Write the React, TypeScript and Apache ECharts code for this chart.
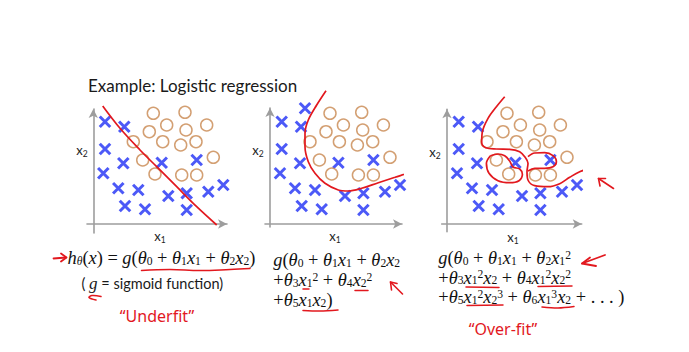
import React, { useEffect, useRef } from "react";
import * as echarts from "echarts";

// ---- data (x1, x2) in plot units ----
const crosses: number[][] = [
  [35, 115.7], [11.7, 102.3], [31, 97.3], [11.7, 75], [30, 60.7], [10, 50.7],
  [25, 35.7], [45, 34], [31.7, 18], [51.7, 14.7], [68.4, 61.3], [75, 28],
  [93.4, 30.7], [93.4, 14], [103.4, 64], [115, 32.3], [130, 39],
];
const circles: number[][] = [
  [60, 110.7], [91.7, 111.7], [73.4, 99], [56, 92.3], [92.7, 94], [113.4, 99],
  [40, 82.3], [69.4, 82.3], [87.4, 79], [102.7, 82.3], [49.4, 64], [120, 66.7],
  [61.7, 50], [88.4, 49], [103.4, 49],
];
const linearBoundary: number[][] = [
  [9.4, 118], [26.7, 95.7], [46.7, 74], [63.4, 57.3], [83.4, 37.3], [103.4, 17.3], [123.4, -1],
];
const quadraticBoundary: number[][] = [
  [56, 133.3], [46.7, 119], [38.3, 104], [35, 90.7], [35, 77.3], [38.3, 62.3], [45, 50.7],
  [55, 40.7], [68.3, 34], [78.3, 33], [91.7, 35.7], [108.3, 41.3], [125, 46.7], [141.7, 52.3], [151.7, 58],
];
const overfitMain: number[][] = [
  [57.7, 127.3], [49.4, 117.3], [41, 105.7], [35.4, 92.3], [34.7, 81.7], [38.7, 76.3], [49.4, 75],
  [62.7, 74.7], [72.7, 72.3], [77.7, 67.3], [81, 60.7], [80, 52.3], [81, 44], [87.7, 38.3],
  [101, 37.3], [112.7, 40.3], [122.7, 46.7], [132.7, 52.3], [144.4, 56.3], [153.4, 61.7],
];
const overfitLoopLeft: number[][] = [
  [43.4, 68.3], [39.4, 60.7], [42, 50.7], [51, 43.3], [62.7, 41.3], [72, 43.3], [75.4, 49.7],
  [72.7, 55], [66, 57], [62.7, 63], [57.7, 68.3], [51, 70], [43.4, 68.3],
];
const overfitLoopRight: number[][] = [
  [81, 67.3], [87.7, 71], [97.7, 71.3], [106, 68.3], [109.4, 62.3], [106, 57.3], [97.7, 55.7],
  [87.7, 55.7], [81, 53],
];

const titleText = "Example: Logistic regression";
const formula1 = ["h_θ(x) = g(θ_0 + θ_1x_1 + θ_2x_2)"];
const formula2 = ["g(θ_0 + θ_1x_1 + θ_2x_2", "+θ_3x_1^2 + θ_4x_2^2", "+θ_5x_1x_2)"];
const formula3 = [
  "g(θ_0 + θ_1x_1 + θ_2x_1^2",
  "+θ_3x_1^2x_2 + θ_4x_1^2x_2^2",
  "+θ_5x_1^2x_2^3 + θ_6x_1^3x_2 + . . . )",
];
const sigmoidNote = ["( ", "g", " = sigmoid function)"];
const underfitNote = "\u201CUnderfit\u201D";
const overfitNote = "\u201COver-fit\u201D";

const BLUE = "#1f30f5";
const TAN = "#c8874f";
const RED = "#e2181e";
const AXIS = "#9d9d9d";
const INK = "#111111";
const SERIF = "'Liberation Serif', 'DejaVu Serif', serif";
const SANS = "Lato, 'Open Sans', 'Noto Sans', sans-serif";

function toRich(src: string): string {
  const toks: { s: string; t: string }[] = [];
  const isLetter = (c: string) => /[a-zA-Zθ]/.test(c);
  let i = 0;
  while (i < src.length) {
    const c = src[i];
    if ((c === "_" || c === "^") && i + 1 < src.length) {
      const s = src[i + 1];
      const style = (c === "_" ? "s" : "p") + (isLetter(s) ? "i" : "r");
      toks.push({ s: style, t: s });
      i += 2;
    } else {
      toks.push({ s: isLetter(c) ? "i" : "r", t: c });
      i += 1;
    }
  }
  const merged: { s: string; t: string }[] = [];
  for (const tk of toks) {
    const last = merged[merged.length - 1];
    if (last && last.s === tk.s) last.t += tk.t;
    else merged.push({ ...tk });
  }
  return merged.map((m) => `{${m.s}|${m.t}}`).join("");
}

const FS = 18.4;
const SS = 11.6;
const LH = 18;
const SLH = 6;
const mathRich: any = {
  i: { fontFamily: SERIF, fontStyle: "italic", fontSize: FS, lineHeight: LH, fill: INK },
  r: { fontFamily: SERIF, fontSize: FS, lineHeight: LH, fill: INK },
  si: { fontFamily: SERIF, fontStyle: "italic", fontSize: SS, lineHeight: SLH, verticalAlign: "bottom", fill: INK },
  sr: { fontFamily: SERIF, fontSize: SS, lineHeight: SLH, verticalAlign: "bottom", fill: INK },
  pi: { fontFamily: SERIF, fontStyle: "italic", fontSize: SS, lineHeight: SLH, verticalAlign: "top", fill: INK },
  pr: { fontFamily: SERIF, fontSize: SS, lineHeight: SLH, verticalAlign: "top", fill: INK },
};

function mathText(src: string, x: number, y: number) {
  return {
    type: "text",
    x,
    y,
    style: { text: toRich(src), rich: mathRich, align: "left", verticalAlign: "middle" },
  };
}

function axisLabel(main: string, sub: string, x: number, y: number) {
  return {
    type: "text",
    x,
    y,
    style: {
      text: `{a|${main}}{b|${sub}}`,
      align: "center",
      verticalAlign: "middle",
      rich: {
        a: { fontFamily: SANS, fontSize: 13, lineHeight: 16, fill: "#222" },
        b: { fontFamily: SANS, fontSize: 8.5, lineHeight: 9, verticalAlign: "bottom", fill: "#222" },
      },
    },
  };
}

function redLine(points: number[][], smooth = 0.3, width = 1.6) {
  return {
    type: "polyline",
    shape: { points, smooth },
    style: { stroke: RED, lineWidth: width, fill: null, lineCap: "round", lineJoin: "round" },
    z: 10,
  };
}

const panels = [
  { grid: { left: 87, top: 109, width: 140, height: 124 }, x: [-6.3, 133.7], y: [-9, 115] },
  { grid: { left: 265, top: 108, width: 137, height: 119 }, x: [-5, 132], y: [-3, 116] },
  { grid: { left: 441.7, top: 109.3, width: 140, height: 122.4 }, x: [-5.3, 134.7], y: [-7.7, 114.7] },
];

export default function App() {
  const ref = useRef<HTMLDivElement>(null);
  useEffect(() => {
    if (!ref.current) return;
    const chart = echarts.init(ref.current, undefined, { renderer: "svg" });

    const axisCommon = (min: number, max: number, gridIndex: number) => ({
      type: "value",
      gridIndex,
      min,
      max,
      axisLine: {
        show: true,
        onZero: true,
        symbol: ["none", "arrow"],
        symbolSize: [7, 9],
        lineStyle: { color: AXIS, width: 1.6 },
      },
      axisTick: { show: false },
      axisLabel: { show: false },
      splitLine: { show: false },
    });

    const boundaries = [[linearBoundary], [quadraticBoundary], [overfitMain, overfitLoopLeft, overfitLoopRight]];
    const series: any[] = [];
    panels.forEach((_, k) => {
      series.push({
        type: "scatter",
        xAxisIndex: k,
        yAxisIndex: k,
        data: crosses,
        symbol: "path://M0 0L10 10M10 0L0 10",
        symbolSize: 10.5,
        itemStyle: { color: "rgba(0,0,0,0)", borderColor: BLUE, borderWidth: 3 },
        z: 3,
      });
      series.push({
        type: "scatter",
        xAxisIndex: k,
        yAxisIndex: k,
        data: circles,
        symbol: "circle",
        symbolSize: 12,
        itemStyle: { color: "rgba(0,0,0,0)", borderColor: TAN, borderWidth: 1.5 },
        z: 3,
      });
      boundaries[k].forEach((b) => {
        series.push({
          type: "line",
          xAxisIndex: k,
          yAxisIndex: k,
          data: b,
          smooth: 0.35,
          showSymbol: false,
          symbol: "none",
          clip: false,
          lineStyle: { color: RED, width: 1.7 },
          z: 5,
        });
      });
    });

    const graphics: any[] = [
      {
        type: "text",
        x: 88,
        y: 85,
        style: { text: titleText, fontFamily: SANS, fontSize: 17, fill: "#1a1a1a", align: "left", verticalAlign: "middle" },
      },
      axisLabel("x", "2", 82, 150),
      axisLabel("x", "1", 160, 236),
      axisLabel("x", "2", 258, 150),
      axisLabel("x", "1", 335, 236),
      axisLabel("x", "2", 435, 152),
      axisLabel("x", "1", 513, 237),
      mathText(formula1[0], 67.5, 258),
      {
        type: "text",
        x: 81.5,
        y: 283,
        style: {
          text: `{s|${sigmoidNote[0]}}{g|${sigmoidNote[1]}}{s|${sigmoidNote[2]}}`,
          align: "left",
          verticalAlign: "middle",
          rich: {
            s: { fontFamily: SANS, fontSize: 14.5, lineHeight: 18, fill: "#1a1a1a" },
            g: { fontFamily: SERIF, fontStyle: "italic", fontSize: 17, lineHeight: 18, fill: "#1a1a1a" },
          },
        },
      },
      ...formula2.map((f, i) => mathText(f, 273.3, 260 + i * 20)),
      ...formula3.map((f, i) => mathText(f, 438.3, 258 + i * 19.5)),
      // annotations
      redLine([[53.5, 258.5], [66, 257.5]], 0, 1.8),
      redLine([[61, 253.5], [66.5, 257.5], [61, 261.5]], 0, 1.8),
      redLine([[141.5, 270.5], [170, 269.5], [200, 270.5], [230, 269.5], [250, 268.5]], 0.4, 1.5),
      redLine([[101, 296.5], [92, 295.5], [89, 297.5], [96, 300]], 0.4, 1.5),
      {
        type: "text",
        x: 157,
        y: 316,
        style: { text: underfitNote, fontFamily: "'Noto Sans', sans-serif", fontSize: 16, fill: RED, align: "center", verticalAlign: "middle" },
      },
      redLine([[355, 290.5], [368, 290.5]], 0, 1.5),
      redLine([[303, 289], [309, 289]], 0, 1.5),
      redLine([[303, 310.5], [320, 311], [338, 310]], 0.3, 1.5),
      redLine([[402.5, 294], [390.5, 282]], 0, 1.6),
      redLine([[391.5, 290], [390.5, 282], [397, 283.5]], 0, 1.6),
      redLine([[466, 287], [499, 287.5]], 0.2, 1.5),
      redLine([[538, 286.5], [572, 286]], 0.2, 1.5),
      redLine([[467, 305.5], [503, 305]], 0.2, 1.5),
      redLine([[542, 307], [558, 308], [574, 306.5]], 0.3, 1.5),
      redLine([[582, 263.5], [605, 255]], 0.2, 1.8),
      redLine([[590, 257.5], [582, 263.5], [596, 266]], 0, 1.8),
      redLine([[613.5, 188.5], [598.5, 178.5]], 0, 1.6),
      redLine([[600, 186], [598.5, 178.5], [605.5, 178.5]], 0, 1.6),
      {
        type: "text",
        x: 503,
        y: 329,
        style: { text: overfitNote, fontFamily: "'Noto Sans', sans-serif", fontSize: 16, fill: RED, align: "center", verticalAlign: "middle" },
      },
    ];

    chart.setOption({
      animation: false,
      backgroundColor: "#ffffff",
      grid: panels.map((p) => ({ ...p.grid, containLabel: false })),
      xAxis: panels.map((p, k) => axisCommon(p.x[0], p.x[1], k)),
      yAxis: panels.map((p, k) => axisCommon(p.y[0], p.y[1], k)),
      series,
      graphic: { elements: graphics },
    });
    return () => chart.dispose();
  }, []);
  return (
    <div
      ref={ref}
      style={{ position: "fixed", left: 0, top: 0, width: 689, height: 352, background: "#fff" }}
    />
  );
}
